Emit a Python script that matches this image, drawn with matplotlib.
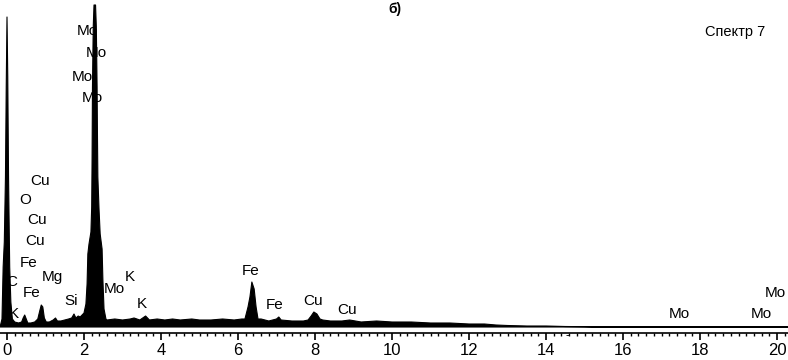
import matplotlib
matplotlib.use("Agg")
from matplotlib import pyplot as plt
from matplotlib.ticker import MultipleLocator

###--- Spectrum outline (keV, counts) ---###
energy = [-0.18, -0.13, -0.10, -0.07, -0.04, -0.02, 0.00, 0.02, 0.04, 0.07, 0.10, 0.14,
          0.20, 0.30, 0.38, 0.42, 0.46, 0.50, 0.54, 0.62, 0.72, 0.80, 0.85, 0.89, 0.93,
          0.97, 1.02, 1.10, 1.20, 1.26, 1.31, 1.40, 1.50, 1.60, 1.68, 1.74, 1.79, 1.85,
          1.90, 2.00, 2.05, 2.08, 2.10, 2.13, 2.18, 2.20, 2.21, 2.22, 2.24, 2.26, 2.30,
          2.32, 2.34, 2.35, 2.36, 2.39, 2.42, 2.47, 2.49, 2.52, 2.57, 2.60, 2.80, 3.00,
          3.20, 3.30, 3.45, 3.60, 3.70, 3.90, 4.10, 4.30, 4.50, 4.80, 5.00, 5.30, 5.60,
          5.90, 6.10, 6.18, 6.26, 6.31, 6.36, 6.42, 6.47, 6.52, 6.60, 6.80, 7.00, 7.06,
          7.12, 7.40, 7.70, 7.82, 7.90, 7.97, 8.05, 8.13, 8.20, 8.40, 8.70, 8.90, 9.20,
          9.60, 10.0, 10.5, 11.0, 11.5, 12.0, 12.4, 12.7, 13.0, 13.5, 14.0, 14.5, 15.0,
          15.3, 20.3]
counts = [0, 8, 60, 85, 150, 240, 310, 250, 150, 60, 25, 8,
          5, 4, 5, 9, 12, 8, 4, 4, 5, 8, 16, 22, 20,
          9, 5, 5, 7, 9, 6, 6, 7, 8, 9, 13, 9, 11,
          10, 14, 23, 43, 73, 83, 95, 120, 168, 240, 300, 322, 322,
          300, 240, 190, 150, 118, 93, 78, 48, 18, 8, 7, 8, 7,
          8, 9, 7, 11, 7, 8, 7, 8, 7, 8, 7, 7, 8,
          7, 8, 8, 20, 30, 45, 38, 20, 8, 8, 6, 8, 10,
          7, 6, 6, 7, 11, 15, 13, 8, 7, 6, 6, 7, 5,
          6, 5, 5, 4, 4, 3, 3, 2, 1.5, 1, 1, 0.5, 0.3,
          0, 0]

###--- Peak labels (keV, counts) ---###
labels = ["Mo", "Mo", "Mo", "Mo", "Cu", "O", "Cu", "Cu", "Fe", "Mg", "C", "Fe", "Si", "K",
          "Mo", "K", "K", "Fe", "Fe", "Cu", "Cu", "Mo", "Mo", "Mo"]
label_e = [2.08, 2.31, 1.95, 2.21, 0.86, 0.47, 0.78, 0.73, 0.57, 1.17, 0.13, 0.65, 1.66, 0.18,
           2.78, 3.19, 3.51, 6.34, 6.96, 7.95, 8.83, 17.45, 19.58, 19.95]
label_c = [296, 274, 250, 229, 146, 127, 107, 86, 64, 50, 45, 34, 26, 13,
           38, 50, 23, 56, 22, 26, 17, 13, 13, 34]

ticks = [0, 2, 4, 6, 8, 10, 12, 14, 16, 18, 20]

fig = plt.figure(figsize=(7.88, 3.6), dpi=100)
ax = fig.add_axes([0, 27/360, 1, 333/360])
ax.fill_between(energy, counts, 0, color="black", lw=0.8, edgecolor="black", zorder=2)
ax.set_xlim(-7/38.5, 781/38.5)
ax.set_ylim(-6, 327)

for s in ["left", "right", "top"]:
    ax.spines[s].set_visible(False)
ax.spines["bottom"].set_linewidth(1.2)
ax.yaxis.set_visible(False)
ax.set_xticks(ticks)
ax.xaxis.set_minor_locator(MultipleLocator(0.2))
ax.tick_params(axis="x", which="major", direction="out", length=5, width=1.2,
               labelsize=12, pad=2)
ax.tick_params(axis="x", which="minor", direction="out", length=2.5, width=1)
for t in ax.get_xticklabels():
    t.set_family("Liberation Sans")

for name, e, c in zip(labels, label_e, label_c):
    ax.text(e, c, name, ha="center", va="center", fontsize=11,
            family="Liberation Sans", zorder=1)

ax.text(14.55, -9, "-", ha="center", va="center", fontsize=9, family="Liberation Sans",
        clip_on=False)
fig.text(395/788, 1 - 9/360, "б)", ha="center", va="center", fontsize=10,
         fontweight="bold", family="Liberation Sans")
fig.text(765/788, 1 - 32/360, "Спектр 7", ha="right", va="center", fontsize=10.5,
         family="Liberation Sans")

plt.savefig("out.png", dpi=100)
plt.close()
